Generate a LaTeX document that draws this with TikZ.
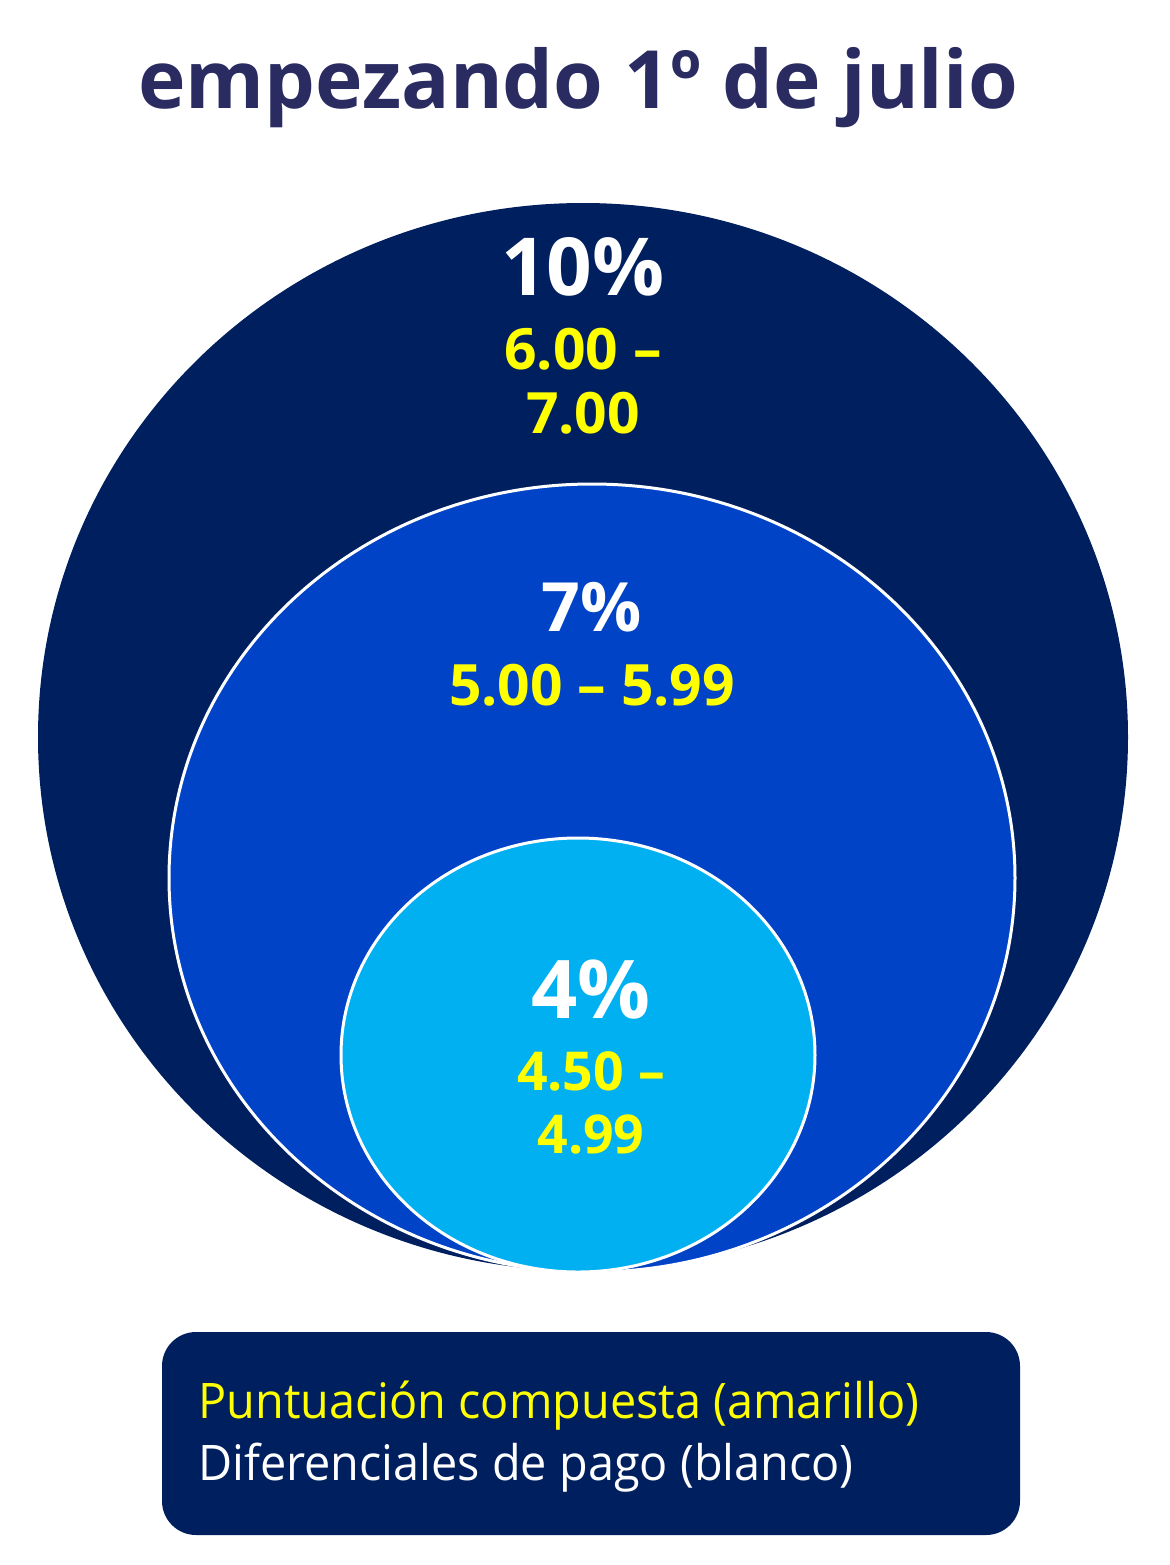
\documentclass[tikz,border=0pt]{standalone}
\usepackage{fontspec}
\setmainfont{Open Sans}
\newfontfamily\keyfont[FakeStretch=0.955]{Open Sans}
\usetikzlibrary{positioning}

\definecolor{navy}{HTML}{001F5F}
\definecolor{titleblue}{HTML}{292B61}
\definecolor{midblue}{HTML}{0043C6}
\definecolor{skyblue}{HTML}{00B0F0}
\definecolor{amarillo}{HTML}{FFFF00}

\begin{document}
\begin{tikzpicture}[x=0.5pt,y=-0.5pt,
    ring/.style = {
      draw = white,
      line width = 1.5pt
    },
    pct/.style = {
      text = white,
      font = \bfseries\fontsize{40}{46}\selectfont,
      anchor = base,
      inner sep = 0pt
    },
    scorerange/.style = {
      text = amarillo,
      font = \bfseries\fontsize{28.5}{34}\selectfont,
      anchor = base,
      inner sep = 0pt
    },
    legend/.style = {
      font = \keyfont\fontsize{24.5}{30}\selectfont,
      anchor = base west,
      inner sep = 0pt
    }
  ]
  \useasboundingbox (0,0) rectangle (1170,1565);

  \node[titleblue, anchor=base, inner sep=0pt,
        font=\bfseries\fontsize{40.2}{48}\selectfont] (title) at (578,108) {empezando 1º de julio};

  \fill[navy] (583,737) ellipse [x radius=545, y radius=534];
  \fill[midblue, ring] (592,878) ellipse [x radius=423, y radius=394];
  \fill[skyblue, ring] (578,1055) ellipse [x radius=237, y radius=217];

  \node[pct] (p10) at (583,295) {10\%};
  \node[scorerange] (r10a) at (583,369) {6.00 –};
  \node[scorerange] (r10b) at (583,433) {7.00};

  \node[pct, font=\bfseries\fontsize{34}{40}\selectfont] (p7) at (592,631) {7\%};
  \node[scorerange] (r7) at (592,705) {5.00 – 5.99};

  \node[pct, font=\bfseries\fontsize{40.5}{46}\selectfont] (p4) at (591,1018) {4\%};
  \node[scorerange, font=\bfseries\fontsize{26.8}{32}\selectfont] (r4a) at (591,1090) {4.50 –};
  \node[scorerange, font=\bfseries\fontsize{26.8}{32}\selectfont] (r4b) at (591,1153) {4.99};

  \node[fill=navy, rounded corners=17pt, minimum width=429pt, minimum height=101.5pt,
        inner sep=0pt] (key) at (591,1433.5) {};
  \node[legend, amarillo] (keya) at (198,1418) {Puntuación compuesta (amarillo)};
  \node[legend, white] (keyb) at (198,1480) {Diferenciales de pago (blanco)};
\end{tikzpicture}
\end{document}
